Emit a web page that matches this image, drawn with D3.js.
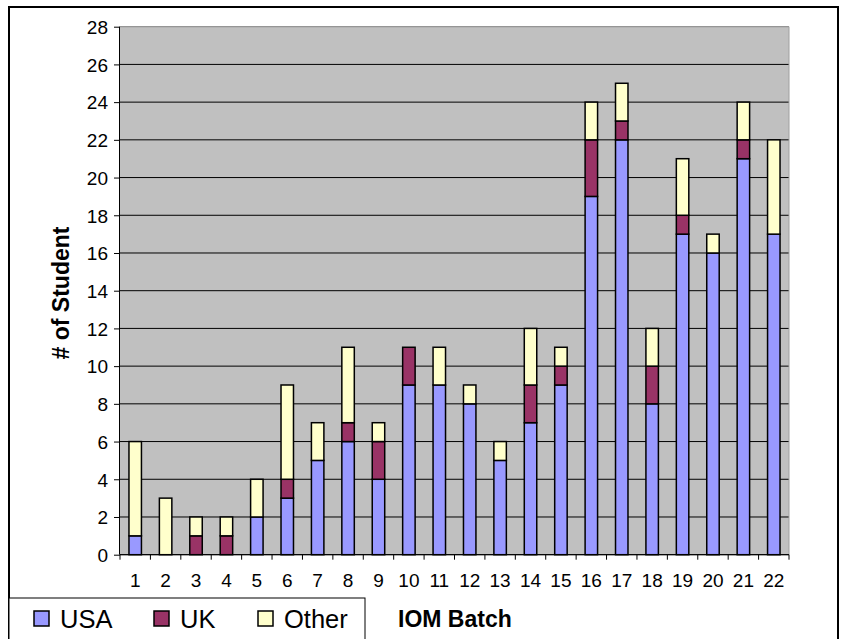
<!DOCTYPE html>
<html><head><meta charset="utf-8">
<script src="https://cdn.jsdelivr.net/npm/d3@7"></script>
<style>body{margin:0;background:#fff}svg{display:block}text{font-family:Arial,"Liberation Sans",sans-serif}</style>
</head><body>
<svg id="c" width="843" height="639"></svg>
<script>
const batches = ["1","2","3","4","5","6","7","8","9","10","11","12","13","14","15","16","17","18","19","20","21","22"];
const usa   = [1,0,0,0,2,3,5,6,4,9,9,8,5,7,9,19,22,8,17,16,21,17];
const uk    = [0,0,1,1,0,1,0,1,2,2,0,0,0,2,1,3,1,2,1,0,1,0];
const other = [5,3,1,1,2,5,2,4,1,0,2,1,1,3,1,2,2,2,3,1,2,5];
const seriesNames = ["USA","UK","Other"];
const colors = ["#9999FF","#993366","#FFFFCC"];
const yTicks = d3.range(0, 29, 2);

const svg = d3.select("#c");
const L = 120, R = 789, T = 26.7, B = 554.7;

svg.append("rect").attr("x",9).attr("y",7).attr("width",829).attr("height",640)
  .attr("fill","#fff").attr("stroke","#000").attr("stroke-width",2);

const x = d3.scaleBand().domain(batches).range([L,R]).paddingInner(0.59).paddingOuter(0.295);
const xb = d3.scaleBand().domain(batches).range([L,R]);
const y = d3.scaleLinear().domain([0,28]).range([B,T]);

svg.append("rect").attr("x",L).attr("y",T).attr("width",R-L).attr("height",B-T).attr("fill","#C0C0C0");
svg.append("g").selectAll("line").data(yTicks).join("line")
  .attr("x1",L).attr("x2",R).attr("y1",d=>y(d)).attr("y2",d=>y(d))
  .attr("stroke",d=>d===28?"#808080":"#000").attr("stroke-width",1);
svg.append("line").attr("x1",R).attr("x2",R).attr("y1",T).attr("y2",B).attr("stroke","#a0a0a0");

const rows = batches.map((b,i)=>({batch:b,USA:usa[i],UK:uk[i],Other:other[i]}));
const stack = d3.stack().keys(seriesNames)(rows);
svg.append("g").selectAll("g").data(stack).join("g").attr("fill",(d,i)=>colors[i])
  .selectAll("rect").data(d=>d.filter(s=>s[1]-s[0]>0)).join("rect")
  .attr("x",d=>x(d.data.batch)).attr("width",x.bandwidth())
  .attr("y",d=>y(d[1])).attr("height",d=>y(d[0])-y(d[1]))
  .attr("stroke","#000").attr("stroke-width",1.5);

// y axis
const ya = svg.append("g").attr("transform",`translate(${L},0)`)
  .call(d3.axisLeft(y).tickValues(yTicks).tickSize(6).tickPadding(6));
ya.select(".domain").attr("stroke","#000").attr("d",`M-0.5,${T}V${B}`);
ya.selectAll("text").attr("font-size",19).attr("fill","#000").attr("dy","0.36em");
// x axis
const xa = svg.append("g").attr("transform",`translate(0,${B})`);
xa.append("line").attr("x1",L).attr("x2",R).attr("stroke","#000");
xa.selectAll("line.t").data(d3.range(batches.length+1)).join("line").attr("class","t")
  .attr("x1",i=>L+i*xb.step()).attr("x2",i=>L+i*xb.step()).attr("y1",0).attr("y2",5).attr("stroke","#000");
xa.selectAll("text").data(batches).join("text")
  .attr("x",d=>xb(d)+xb.bandwidth()/2).attr("y",32.5).attr("text-anchor","middle")
  .attr("font-size",19).text(d=>d);

svg.append("text").attr("transform","translate(69,293) rotate(-90)").attr("text-anchor","middle")
  .attr("font-size",23).attr("font-weight","bold").text("# of Student");
svg.append("text").attr("x",398).attr("y",627).attr("font-size",23).attr("font-weight","bold").text("IOM Batch");

// legend
const lg = svg.append("g");
lg.append("rect").attr("x",9).attr("y",598).attr("width",356).attr("height",50).attr("fill","#fff").attr("stroke","#000").attr("stroke-width",1);
const lx = [34,154,258];
seriesNames.forEach((n,i)=>{
  lg.append("rect").attr("x",lx[i]).attr("y",611).attr("width",15).attr("height",15).attr("fill",colors[i]).attr("stroke","#000").attr("stroke-width",1.5);
  lg.append("text").attr("x",lx[i]+26).attr("y",628).attr("font-size",25.5).text(n);
});
</script>
</body></html>
